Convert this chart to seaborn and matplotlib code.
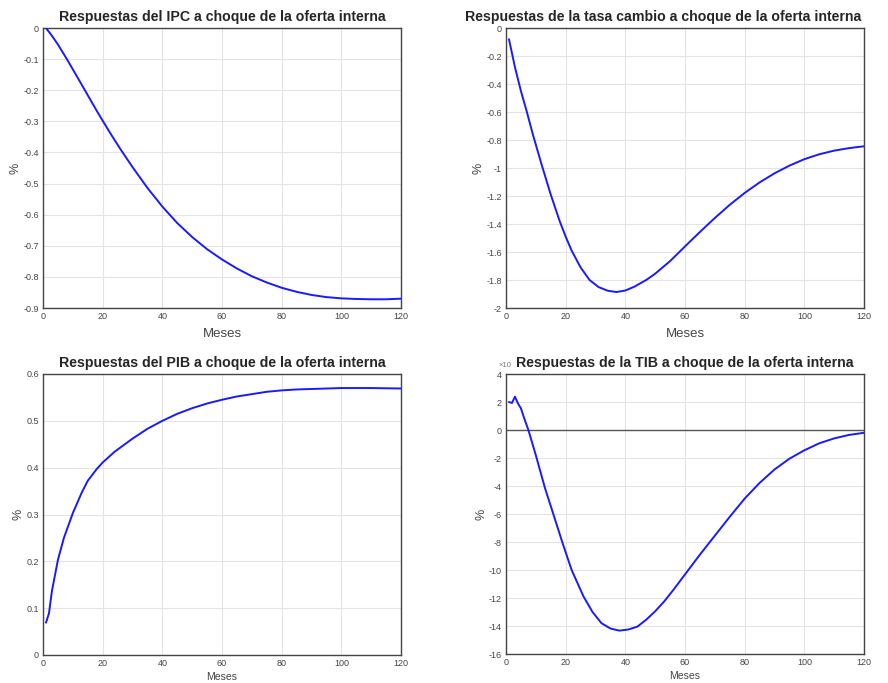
import matplotlib
matplotlib.use("Agg")
import matplotlib.pyplot as plt
import seaborn as sns
import pandas as pd

# ---- data ----
meses_ipc = [1, 3, 5, 8, 10, 12, 15, 18, 20, 23, 26, 30, 35, 40, 45, 50, 55, 60, 65, 70, 75, 80, 85, 90, 95, 100, 105, 110, 115, 120]
ipc = [0.0, -0.025, -0.053, -0.1, -0.133, -0.166, -0.216, -0.266, -0.298, -0.345, -0.39, -0.447, -0.514, -0.574, -0.627, -0.672,
       -0.711, -0.744, -0.773, -0.798, -0.818, -0.835, -0.848, -0.858, -0.865, -0.869, -0.871, -0.872, -0.872, -0.870]

meses_tc = [1, 3, 5, 7, 9, 12, 15, 18, 20, 22, 25, 28, 31, 34, 37, 40, 43, 47, 50, 55, 60, 65, 70, 75, 80, 85, 90, 95, 100, 105, 110, 115, 120]
tc = [-0.08, -0.28, -0.45, -0.6, -0.76, -0.98, -1.19, -1.38, -1.49, -1.59, -1.71, -1.8, -1.85, -1.876, -1.886, -1.875, -1.848, -1.8,
      -1.755, -1.665, -1.56, -1.457, -1.357, -1.263, -1.178, -1.103, -1.038, -0.983, -0.937, -0.902, -0.876, -0.858, -0.845]

meses_pib = [1, 2, 3, 4, 5, 7, 10, 13, 15, 18, 20, 24, 27, 30, 35, 40, 45, 50, 55, 60, 65, 70, 75, 80, 85, 90, 95, 100, 110, 120]
pib = [0.069, 0.089, 0.137, 0.17, 0.203, 0.25, 0.303, 0.347, 0.372, 0.397, 0.411, 0.434, 0.448, 0.462, 0.483, 0.5, 0.515, 0.527,
       0.537, 0.545, 0.552, 0.557, 0.562, 0.565, 0.567, 0.568, 0.569, 0.57, 0.57, 0.569]

meses_tib = [1, 2, 3, 4, 5, 6, 7.5, 10, 13, 16, 19, 22, 26, 29, 32, 35, 38, 41, 44, 47, 50, 53, 56, 59, 62, 65, 70, 75, 80, 85, 90, 95, 100, 105, 110, 115, 120]
tib = [2.0, 1.93, 2.38, 1.9, 1.55, 0.9, 0.0, -1.8, -4.1, -6.1, -8.1, -10.0, -11.9, -13.0, -13.8, -14.18, -14.33, -14.25, -14.05,
       -13.55, -12.95, -12.25, -11.45, -10.6, -9.75, -8.9, -7.55, -6.2, -4.9, -3.78, -2.82, -2.05, -1.45, -0.95, -0.6, -0.35, -0.2]

titulos = ["Respuestas del IPC a choque de la oferta interna",
           "Respuestas de la tasa cambio a choque de la oferta interna",
           "Respuestas del PIB a choque de la oferta interna",
           "Respuestas de la TIB a choque de la oferta interna"]

sns.set_style("whitegrid", {"grid.color": "#e3e3e3", "axes.edgecolor": "#444444"})
plt.rcParams["font.family"] = ["Liberation Sans", "DejaVu Sans"]

fig = plt.figure(figsize=(8.88, 6.83), dpi=100)
W, H = 888, 683
boxes = [(43, 28, 401, 308), (506, 28, 864, 308), (43, 374, 401, 655), (506, 374, 864, 654)]
axes = []
for (x0, y0, x1, y1) in boxes:
    axes.append(fig.add_axes([x0 / W, 1 - y1 / H, (x1 - x0) / W, (y1 - y0) / H]))

series = [(meses_ipc, ipc), (meses_tc, tc), (meses_pib, pib), (meses_tib, tib)]
ylims = [(-0.9, 0), (-2, 0), (0, 0.6), (-16, 4)]
yticks = [[-0.9 + 0.1 * i for i in range(10)], [-2 + 0.2 * i for i in range(11)],
          [0.1 * i for i in range(7)], list(range(-16, 5, 2))]
ytl = [["-0.9", "-0.8", "-0.7", "-0.6", "-0.5", "-0.4", "-0.3", "-0.2", "-0.1", "0"],
       ["-2", "-1.8", "-1.6", "-1.4", "-1.2", "-1", "-0.8", "-0.6", "-0.4", "-0.2", "0"],
       ["0", "0.1", "0.2", "0.3", "0.4", "0.5", "0.6"],
       [str(v) for v in range(-16, 5, 2)]]
xlab_size = [9.5, 9.5, 7.5, 7.5]
xlab_pad = [5, 5, 3, 3]
title_x = [0.5, 0.4385, 0.5, 0.5]

for i, ax in enumerate(axes):
    m, v = series[i]
    df = pd.DataFrame({"Meses": m, "val": v})
    if i == 3:
        ax.axhline(0, color="#555555", lw=1.0, zorder=1)
    sns.lineplot(data=df, x="Meses", y="val", ax=ax, color="#1a1aff", lw=1.4, zorder=3)
    ax.set_xlim(0, 120)
    ax.set_ylim(*ylims[i])
    ax.set_xticks(range(0, 121, 20))
    ax.set_yticks(yticks[i])
    ax.set_yticklabels(ytl[i])
    ax.tick_params(axis="both", labelsize=6.5, labelcolor="#444444", length=0, pad=3)
    ax.set_xlabel("Meses", fontsize=xlab_size[i], color="#444444", labelpad=xlab_pad[i])
    ax.set_ylabel("%", fontsize=9, color="#444444", labelpad=1)
    ax.set_title(titulos[i], fontsize=10.2, fontweight="bold", pad=5, x=title_x[i])
    for s in ax.spines.values():
        s.set_color("#444444")
        s.set_linewidth(1.0)

axes[3].text(-0.02, 1.018, "×10", transform=axes[3].transAxes, fontsize=5.5, color="#777777",
             ha="left", va="bottom", zorder=0)

fig.savefig("out.png", dpi=100, facecolor="white")
